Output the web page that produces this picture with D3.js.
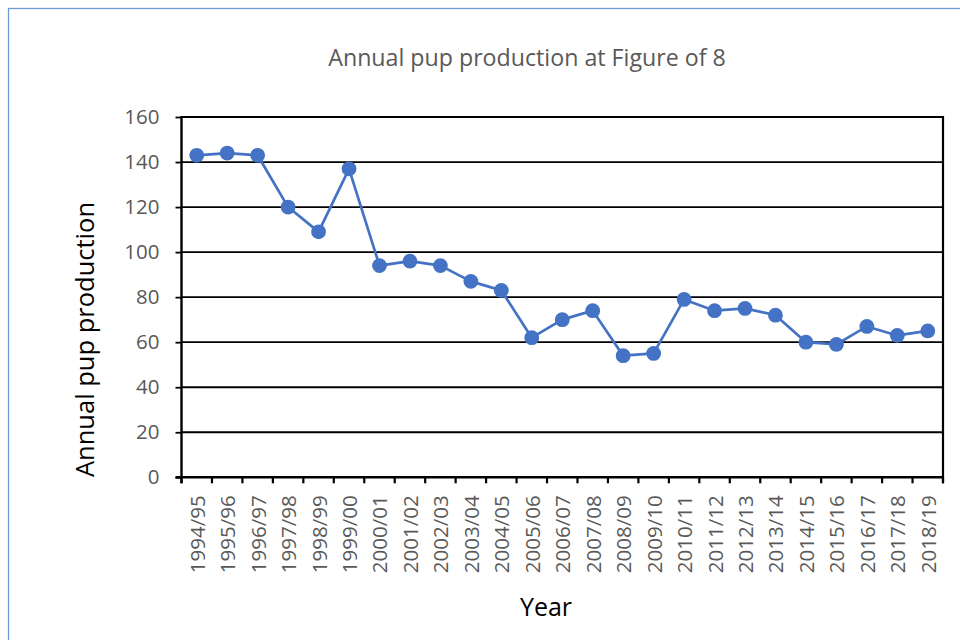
<!DOCTYPE html>
<html><head><meta charset="utf-8">
<script src="https://cdn.jsdelivr.net/npm/d3@7"></script>
<style>body{margin:0;background:#fff}svg{display:block}text{font-family:"Open Sans",sans-serif}</style>
</head><body><svg width="960" height="640"></svg>
<script>
const years=["1994/95","1995/96","1996/97","1997/98","1998/99","1999/00","2000/01","2001/02","2002/03","2003/04","2004/05","2005/06","2006/07","2007/08","2008/09","2009/10","2010/11","2011/12","2012/13","2013/14","2014/15","2015/16","2016/17","2017/18","2018/19"];
const pups=[143,144,143,120,109,137,94,96,94,87,83,62,70,74,54,55,79,74,75,72,60,59,67,63,65];
const yTicks=[0,20,40,60,80,100,120,140,160];
const title="Annual pup production at Figure of 8";
const yTitle="Annual pup production";
const xTitle="Year";

const svg=d3.select("svg");
svg.append("rect").attr("x",8.5).attr("y",8.5).attr("width",980).attr("height",680)
  .attr("fill","none").attr("stroke","#6f9ad9").attr("stroke-width",1.3);

const m={l:181.5,r:943,t:117,b:477.3};
const x=d3.scaleBand().domain(years).range([m.l,m.r]);
const y=d3.scaleLinear().domain([0,160]).range([m.b,m.t]);
const bw=x.bandwidth();

// gridlines
svg.append("g").selectAll("line").data(yTicks.filter(d=>d>0)).join("line")
  .attr("x1",m.l).attr("x2",m.r).attr("y1",d=>y(d)).attr("y2",d=>y(d))
  .attr("stroke","#000").attr("stroke-width",1.8);
// right border
svg.append("line").attr("x1",m.r).attr("x2",m.r).attr("y1",m.t-0.9).attr("y2",m.b+6)
  .attr("stroke","#000").attr("stroke-width",2.2);

// y axis
const ya=svg.append("g").attr("transform",`translate(${m.l},0)`)
  .call(d3.axisLeft(y).tickValues(yTicks).tickSize(6).tickPadding(16).tickFormat(d3.format("d")));
ya.select(".domain").attr("stroke","#000").attr("stroke-width",2.4).attr("d",`M0,${m.b+6}V${m.t-0.9}`);
ya.selectAll(".tick line").attr("stroke","#000").attr("stroke-width",1.8);
ya.selectAll(".tick text").attr("fill","#595959").style("font-size","20.5px").style("font-family","'Open Sans',sans-serif");

// x axis
const xa=svg.append("g");
xa.append("line").attr("x1",m.l-6).attr("x2",m.r).attr("y1",m.b).attr("y2",m.b)
  .attr("stroke","#000").attr("stroke-width",2.4);
const bounds=years.map(d=>x(d)).concat([x(years[years.length-1])+bw]);
xa.selectAll("line.t").data(bounds).join("line").attr("class","t")
  .attr("x1",d=>d).attr("x2",d=>d).attr("y1",m.b).attr("y2",m.b+6)
  .attr("stroke","#000").attr("stroke-width",2.2);
xa.selectAll("text").data(years).join("text")
  .attr("transform",d=>`translate(${x(d)+bw/2},${m.b+18}) rotate(-90)`)
  .attr("text-anchor","end").attr("dominant-baseline","central")
  .attr("fill","#595959").style("font-size","20.5px").text(d=>d);

// line + markers
const pts=years.map((d,i)=>({k:d,v:pups[i]}));
svg.append("path").datum(pts)
  .attr("d",d3.line().x(d=>x(d.k)+bw/2).y(d=>y(d.v)))
  .attr("fill","none").attr("stroke","#4472C4").attr("stroke-width",2.7).attr("stroke-linejoin","round");
svg.append("g").selectAll("circle").data(pts).join("circle")
  .attr("cx",d=>x(d.k)+bw/2).attr("cy",d=>y(d.v)).attr("r",7.4).attr("fill","#4472C4");

// titles
svg.append("text").attr("x",527).attr("y",57).attr("text-anchor","middle").attr("dominant-baseline","central")
  .attr("fill","#595959").style("font-size","23.2px").text(title);
svg.append("text").attr("transform",`translate(84,339.5) rotate(-90)`)
  .attr("text-anchor","middle").attr("dominant-baseline","central")
  .attr("fill","#000").style("font-size","25.5px").text(yTitle);
svg.append("text").attr("x",546).attr("y",606).attr("text-anchor","middle").attr("dominant-baseline","central")
  .attr("fill","#000").style("font-size","25px").text(xTitle);
</script></body></html>
